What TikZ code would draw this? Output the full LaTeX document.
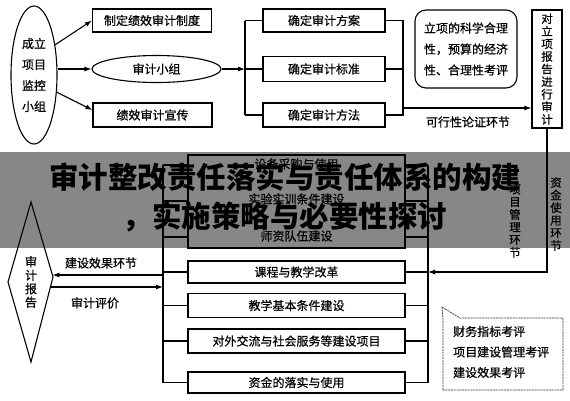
\documentclass[tikz,border=0pt]{standalone}
\usepackage{fontspec}
\newfontfamily\cjk[FakeBold=0.6]{Noto Sans CJK SC}
\newfontfamily\tfont{Noto Sans CJK SC}
\usetikzlibrary{shapes.geometric,arrows.meta,calc}
\begin{document}
\begin{tikzpicture}[x=1pt,y=-1pt,
  every node/.style={font=\cjk\fontsize{12}{14}\selectfont,inner sep=0pt},
  ln/.style={line width=1.1pt,black},
  arr/.style={ln,-{Latex[length=7pt,width=5pt]}},
  bx/.style={draw,line width=1.1pt,rectangle,minimum width=#1},
  ell/.style={draw,line width=1.1pt,ellipse},
  vtxt/.style={align=center,font=\cjk\fontsize{11.5}{12.6}\selectfont},
  ltxt/.style={align=center,font=\cjk\fontsize{12}{21}\selectfont},
]
\useasboundingbox (0,0) rectangle (570,400);
\fill[white] (0,0) rectangle (570,400);

% top-left group
\node[ell,minimum width=46pt,minimum height=138pt,ltxt] (grp) at (34,75) {成立\\项目\\监控\\小组};
\node[bx=119pt,minimum height=23pt] (zd) at (152,20.5) {制定绩效审计制度};
\node[ell,minimum width=129pt,minimum height=27pt] (xz) at (156.5,69) {审计小组};
\node[bx=119pt,minimum height=24pt] (xc) at (152.5,115) {绩效审计宣传};
\draw[arr] (grp.55) -- (zd.west);
\draw[arr] (grp.east |- xz.west) -- (xz.west);
\draw[arr] (grp.-37) -- ([yshift=5pt]xc.west);

% second column
\node[bx=122pt,minimum height=23pt] (qa) at (324,20.5) {确定审计方案};
\node[bx=122pt,minimum height=25pt] (qb) at (324,69) {确定审计标准};
\node[bx=122pt,minimum height=24pt] (qc) at (324,115) {确定审计方法};
\coordinate (blt) at (245,20.5);
\coordinate (blb) at (245,115);
\draw[ln] (blt) -- (blb);
\draw[ln] (blt) -- (qa.west);
\draw[ln] (blb) -- (qc.west);
\draw[arr] (xz.east) -- (xz.east -| blt);
\draw[ln] (xz.east -| blt) -- (qb.west);
\coordinate (brt) at (403,20.5);
\coordinate (brb) at (403,115);
\coordinate (bra) at (403,108);
\draw[ln] (qa.east) -- (brt) -- (brb) -- (qc.east);
\draw[ln] (qb.east) -- (qb.east -| brt);

% right column
\node[draw,line width=1.1pt,rounded corners=11pt,minimum width=102pt,minimum height=78pt,ltxt] (kp) at (466,49) {立项的科学合理\\性，预算的经济\\性、合理性考评};
\node[bx=30pt,minimum height=118pt,vtxt] (dl) at (547,69) {对\\立\\项\\报\\告\\进\\行\\审\\计};
\draw[arr] (bra) -- (dl.west |- bra);
\node (kx) at (468,122) {可行性论证环节};

% middle / bottom boxes
\node[bx=217pt,minimum height=93pt] (up) at (296.5,201.5) {};
\node (u1) at (296.5,164) {设备采购与使用};
\node (u2) at (296.5,199) {实验实训条件建设};
\node (u3) at (296.5,236) {师资队伍建设};
\node[bx=217pt,minimum height=22pt] (kc) at (296.5,272) {课程与教学改革};
\node[bx=217pt,minimum height=24pt] (jx) at (296.5,305.5) {教学基本条件建设};
\node[bx=217pt,minimum height=24pt] (dw) at (296.5,341) {对外交流与社会服务等建设项目};
\node[bx=217pt,minimum height=21pt] (zj) at (296.5,382.5) {资金的落实与使用};

\coordinate (lbt) at (163,165);
\coordinate (lbb) at (163,382.5);
\coordinate (rbt) at (428,165);
\coordinate (rbb) at (428,382.5);
\draw[ln] (lbt) -- (lbb);
\draw[ln] (rbt) -- (rbb);
\foreach \yy in {165,201,237} {
  \draw[ln] (163,\yy) -- (188,\yy);
  \draw[ln] (405,\yy) -- (428,\yy);
}
\foreach \b in {kc,jx,dw,zj} {
  \draw[ln] (\b.west) -- (\b.west -| lbt);
  \draw[ln] (\b.east) -- (\b.east -| rbt);
}
\draw[arr] (dl.south) |- (rbt |- kc.east);
\node[vtxt] (zs) at (556,214) {资\\金\\使\\用\\环\\节};
\node[vtxt] (xm) at (515,221) {项\\目\\管\\理\\环\\节};

% audit report kite
\coordinate (kt) at (31,202);
\coordinate (kr) at (53,277);
\coordinate (kb) at (31,362);
\coordinate (kl) at (8,282);
\draw[ln] (kt) -- (kr) -- (kb) -- (kl) -- cycle;
\node[vtxt,font=\cjk\fontsize{12}{13.5}\selectfont] (rpt) at (31,282) {审\\计\\报\\告};
\coordinate (e1) at (52.4,275);
\coordinate (e2) at (50.5,287);
\draw[arr] (e1 -| lbt) -- (e1);
\draw[arr] (e2) -- (e2 -| lbt);
\node (l1) at (101,263) {建设效果环节};
\node (l2) at (95,303) {审计评价};

% callout
\coordinate (ct) at (442,307);
\draw[line width=0.7pt,black!80,dash pattern=on 2pt off 0.8pt]
  (443,390) -- (443,320) -- (ct) -- (460,318) -- (563,318) -- (563,390) -- cycle;
\node[anchor=west,align=left,font=\cjk\fontsize{12}{20.5}\selectfont] (cb) at (453,352) {财务指标考评\\项目建设管理考评\\建设效果考评};

% banner overlay
\fill[black,opacity=0.47] (0,152) rectangle (570,248);
\node[align=center,font=\tfont\bfseries\fontsize{29.5}{39}\selectfont] (title) at (285,197.5) {审计整改责任落实与责任体系的构建\\，实施策略与必要性探讨};
\end{tikzpicture}
\end{document}
